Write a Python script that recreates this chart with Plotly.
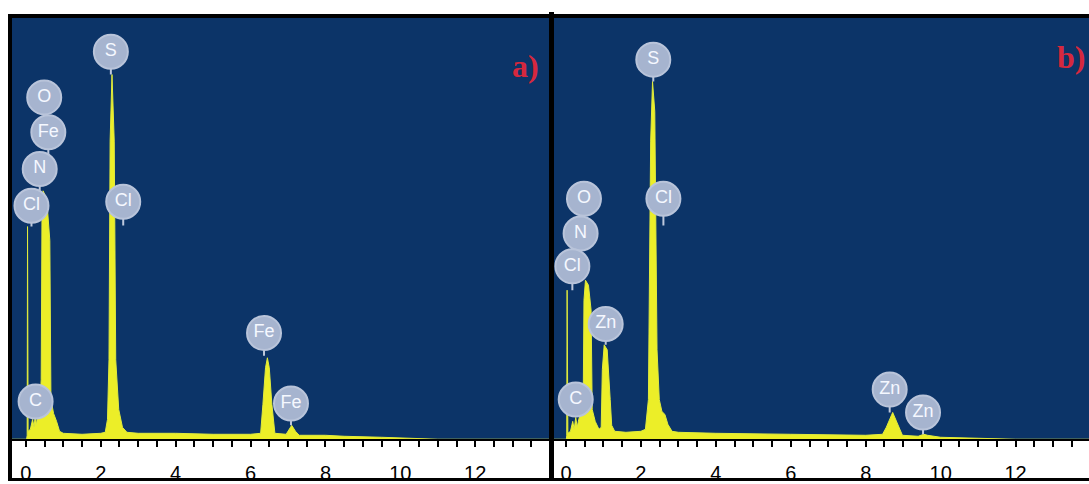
import plotly.graph_objects as go

W, H = 1089, 484

# ---------------- data ----------------
a_energy = [-0.37, 0.02, 0.035, 0.045, 0.06, 0.12, 0.18, 0.22, 0.25, 0.28, 0.31, 0.36, 0.41,
            0.43, 0.46, 0.52, 0.58, 0.64, 0.67, 0.74, 0.82, 0.90, 1.0, 1.5, 2.0, 2.12,
            2.18, 2.22, 2.25, 2.30, 2.36, 2.40, 2.48, 2.58, 2.70, 3.0, 4.0, 5.0, 6.0,
            6.27, 6.33, 6.40, 6.45, 6.50, 6.57, 6.65, 6.95, 7.00, 7.10, 7.20, 7.30, 8.0, 8.5,
            9.5, 10.5, 11.0, 13.97]
a_counts = [0, 0, 4, 214, 8, 10, 20, 12, 24, 14, 22, 28,
            60, 220, 250, 245, 230, 200, 40, 26, 18, 8, 6, 5, 6, 7,
            20, 80, 300, 367, 300, 80, 30, 12, 7, 6, 6, 5, 5,
            6, 35, 72, 82, 72, 35, 6, 5, 8, 14, 8, 4, 4, 3,
            2, 1, 0, 0]

b_energy = [-0.32, 0.01, 0.02, 0.03, 0.05, 0.12, 0.18, 0.22, 0.26, 0.30, 0.34, 0.40, 0.46,
            0.48, 0.52, 0.60, 0.67, 0.70, 0.78, 0.88, 0.94, 0.97, 1.02, 1.10, 1.18,
            1.22, 1.30, 1.6, 2.0, 2.12, 2.20, 2.26, 2.31, 2.37, 2.43, 2.49, 2.56,
            2.64, 2.72, 2.83, 3.0, 4.0, 6.0, 8.0, 8.45, 8.55, 8.72, 8.88, 8.98,
            9.4, 9.55, 9.65, 9.8, 10.0, 11.0, 12.0, 13.96]
b_counts = [0, 0, 4, 150, 6, 8, 18, 10, 22, 12, 20, 26, 40,
            140, 160, 155, 130, 30, 18, 10, 12, 70, 95, 90, 40,
            14, 8, 7, 8, 10, 40, 300, 360, 330, 90, 40, 28,
            25, 15, 8, 7, 6, 5, 4, 5, 12, 27, 12, 4,
            3, 5, 4, 3, 2, 1, 0, 0]

# peak labels: element, energy, label height, stem end
a_lab_el = ["S", "O", "Fe", "N", "Cl", "Cl", "C", "Fe", "Fe"]
a_lab_x = [2.27, 0.49, 0.60, 0.37, 0.15, 2.60, 0.26, 6.36, 7.08]
a_lab_y = [390, 344, 309, 272, 235, 239, 38, 107, 36]
a_lab_stem = [367, 309, 272, 250, 214, 215, 22, 84, 14]

b_lab_el = ["S", "O", "N", "Cl", "Zn", "C", "Cl", "Zn", "Zn"]
b_lab_x = [2.33, 0.48, 0.39, 0.17, 1.06, 0.26, 2.60, 8.64, 9.53]
b_lab_y = [382, 242, 207, 174, 116, 40, 242, 50, 27]
b_lab_stem = [360, 207, 174, 150, 95, 25, 215, 27, 5]

tick_vals = [0, 2, 4, 6, 8, 10, 12]
panel_tags = ["a)", "b)"]

# ---------------- styling ----------------
BG = "#0c3468"
YEL = "rgb(236,238,40)"
LABC = "rgb(166,180,207)"

fig = go.Figure()

panels = [
    (a_energy, a_counts, a_lab_el, a_lab_x, a_lab_y, a_lab_stem, "x", "y"),
    (b_energy, b_counts, b_lab_el, b_lab_x, b_lab_y, b_lab_stem, "x2", "y2"),
]
for en, ct, el, lx, ly, ls, xa, ya in panels:
    fig.add_trace(go.Scatter(x=en, y=ct, mode="lines", fill="tozeroy",
                             fillcolor=YEL, line=dict(color="rgb(225,235,60)", width=1),
                             xaxis=xa, yaxis=ya, hoverinfo="skip", showlegend=False))
    sx, sy = [], []
    for x0, y0, y1 in zip(lx, ly, ls):
        sx += [x0, x0, None]
        sy += [y0, y1, None]
    fig.add_trace(go.Scatter(x=sx, y=sy, mode="lines",
                             line=dict(color="rgb(190,200,220)", width=2),
                             xaxis=xa, yaxis=ya, hoverinfo="skip", showlegend=False))
    fig.add_trace(go.Scatter(x=lx, y=ly, mode="markers+text", text=el,
                             textposition="middle center",
                             textfont=dict(color="rgb(245,248,255)", size=18,
                                           family="Liberation Sans"),
                             marker=dict(size=34, color=LABC,
                                         line=dict(color="rgb(185,196,218)", width=2)),
                             xaxis=xa, yaxis=ya, hoverinfo="skip", showlegend=False))


def px(x):
    return x / W


def py(y):
    return 1 - y / H


xcommon = dict(showgrid=False, zeroline=False, showline=True, linecolor="black",
               linewidth=2, ticks="outside", ticklen=6, tickwidth=1.5, tickcolor="black",
               tickvals=tick_vals, ticktext=[str(v) for v in tick_vals],
               tickfont=dict(family="Liberation Sans", size=20, color="black"),
               ticklabelstandoff=9,
               minor=dict(dtick=0.5, tick0=0, ticks="outside", ticklen=6,
                          tickcolor="black", tickwidth=1.5))
ycommon = dict(showgrid=False, zeroline=False, showticklabels=False, showline=False,
               range=[0, 424], fixedrange=True)

fig.update_layout(
    width=W, height=H, margin=dict(l=0, r=0, t=0, b=0),
    paper_bgcolor="white", plot_bgcolor=BG, showlegend=False,
    xaxis=dict(domain=[px(12), px(549)], range=[-0.37, 13.97], anchor="y", **xcommon),
    xaxis2=dict(domain=[px(554), 1.0], range=[-0.32, 13.96], anchor="y2", **xcommon),
    yaxis=dict(domain=[py(442), py(18)], anchor="x", **ycommon),
    yaxis2=dict(domain=[py(442), py(18)], anchor="x2", **ycommon),
)


def rect(x0, y0, x1, y1):
    return dict(type="rect", xref="paper", yref="paper", x0=px(x0), x1=px(x1),
                y0=py(y1), y1=py(y0), fillcolor="black", line=dict(width=0), layer="above")


shapes = [
    rect(8, 14, 1089, 18),     # top border
    rect(8, 14, 12, 483),      # left border
    rect(549, 12, 554, 484),   # divider
    rect(8, 481, 1089, 484),   # bottom border
]
fig.update_layout(shapes=shapes)

for tag, (tx, ty) in zip(panel_tags, [(525, 66), (1071, 57)]):
    fig.add_annotation(x=px(tx), y=py(ty), xref="paper", yref="paper",
                       xanchor="center", yanchor="middle",
                       text="<b>" + tag + "</b>", showarrow=False,
                       font=dict(family="Liberation Serif", size=32, color="rgb(214,40,62)"))

fig.write_html("out.html", config={"displayModeBar": False},
               post_script="document.body.style.margin='0';document.body.style.overflow='hidden';")
